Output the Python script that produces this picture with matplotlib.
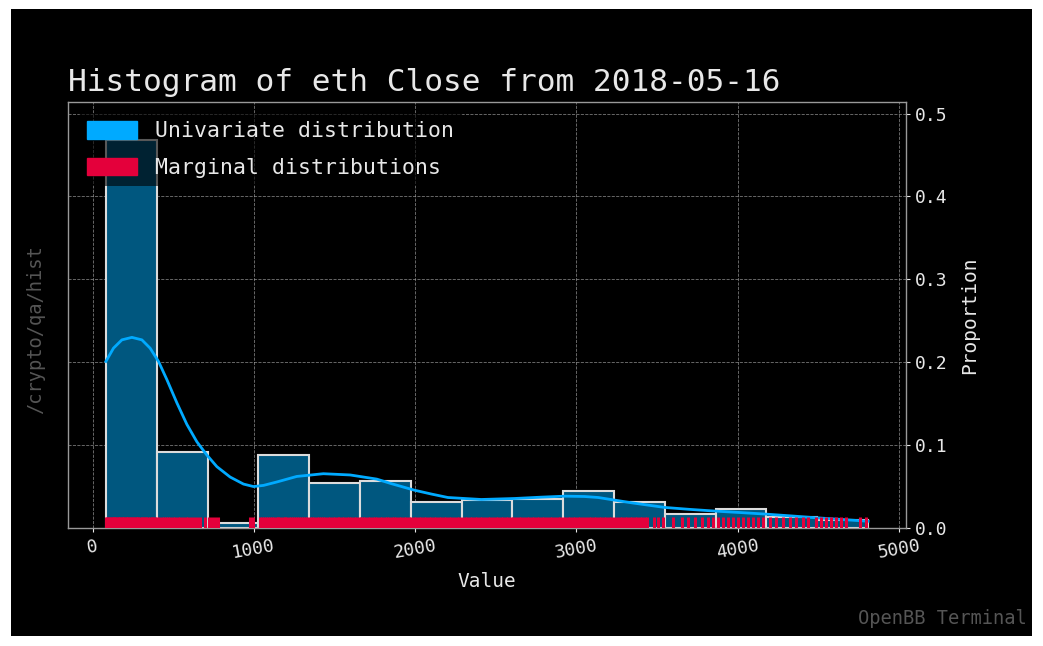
"""
Histogram of ETH close prices with KDE and rug, OpenBB terminal style
"""
import matplotlib.pyplot as plt
from matplotlib.patches import Patch, Rectangle

# histogram: 15 equal bins between min and max close
bin_edges = [83, 398, 713, 1028, 1343, 1658, 1973, 2288, 2603,
             2918, 3233, 3548, 3863, 4178, 4493, 4808]
proportions = [0.468, 0.0912, 0.006, 0.0876, 0.0543, 0.0567, 0.0309, 0.0337,
               0.035, 0.0442, 0.0317, 0.0172, 0.0229, 0.0133, 0.010]

# kde curve
kde_x = [83, 130, 182, 244, 306, 357, 409, 461, 523, 585, 647, 709, 771, 853,
         936, 998, 1060, 1142, 1266, 1431, 1597, 1762, 1851, 1996, 2100, 2203,
         2410, 2617, 2780, 2927, 3050, 3135, 3342, 3548, 3700, 3859, 4020,
         4170, 4330, 4480, 4640, 4790, 4808]
kde_y = [0.201, 0.217, 0.227, 0.230, 0.227, 0.217, 0.201, 0.179, 0.151,
         0.125, 0.104, 0.088, 0.074, 0.0615, 0.053, 0.050, 0.0514, 0.0555,
         0.0622, 0.0655, 0.064, 0.059, 0.0536, 0.0456, 0.041, 0.0368, 0.0344,
         0.0356, 0.0372, 0.0384, 0.038, 0.0368, 0.0304, 0.0248, 0.0225,
         0.0204, 0.0186, 0.0168, 0.0146, 0.0124, 0.0104, 0.0084, 0.0082]

# rug ticks (close values)
rug_values = [
    84, 92, 101, 110, 118, 125, 133, 140, 148, 155, 163, 171, 180, 188, 197,
    205, 214, 222, 231, 240, 249, 258, 267, 276, 285, 294, 304, 314, 323, 333,
    344, 355, 366, 378, 390, 402, 415, 428, 441, 455, 469, 483, 498, 513, 528,
    544, 560, 577, 594, 612, 630, 648, 668, 700, 719, 743, 762, 780, 977, 997,
    1039, 1051, 1060, 1074, 1088, 1101, 1112, 1127, 1141, 1150, 1163, 1178,
    1191, 1202, 1217, 1230, 1241, 1256, 1270, 1281, 1293, 1306, 1320, 1331,
    1349, 1362, 1373, 1390, 1401, 1418, 1431, 1444, 1461, 1473, 1490, 1502,
    1519, 1531, 1548, 1560, 1577, 1592, 1604, 1621, 1633, 1649, 1662, 1679,
    1691, 1708, 1720, 1737, 1751, 1764, 1781, 1794, 1811, 1824, 1841, 1854,
    1871, 1884, 1901, 1914, 1931, 1944, 1961, 1974, 1991, 2005, 2022, 2035,
    2053, 2066, 2084, 2098, 2115, 2129, 2147, 2161, 2179, 2193, 2211, 2225,
    2243, 2257, 2275, 2289, 2307, 2321, 2339, 2353, 2371, 2385, 2403, 2417,
    2435, 2449, 2467, 2481, 2499, 2513, 2531, 2545, 2563, 2577, 2595, 2609,
    2627, 2641, 2659, 2673, 2691, 2705, 2723, 2737, 2755, 2769, 2787, 2801,
    2819, 2833, 2851, 2865, 2883, 2897, 2915, 2929, 2947, 2961, 2979, 2993,
    3011, 3025, 3043, 3057, 3075, 3089, 3107, 3121, 3139, 3153, 3171, 3185,
    3203, 3217, 3235, 3249, 3267, 3281, 3299, 3313, 3331, 3345, 3363, 3377,
    3395, 3409, 3427, 3436, 3478, 3507, 3538, 3600, 3652, 3693, 3734, 3776,
    3817, 3848, 3879, 3910, 3941, 3972, 4003, 4034, 4065, 4096, 4127, 4158,
    4199, 4240, 4281, 4323, 4364, 4405, 4436, 4488, 4519, 4550, 4581, 4612,
    4643, 4674, 4757, 4798,
]

text_color = "#e8e8e8"
font = "DejaVu Sans Mono"
plt.rcParams["font.family"] = font

fig = plt.figure(figsize=(10.43, 6.46), dpi=100, facecolor="white")
fig.patches.append(Rectangle((11 / 1043, 10 / 646), 1021 / 1043, 627 / 646,
                             transform=fig.transFigure, facecolor="black",
                             edgecolor="none", zorder=-5))
ax = fig.add_axes([68 / 1043, 1 - 528 / 646, 838 / 1043, 426 / 646])
ax.set_facecolor("black")

widths = [bin_edges[i + 1] - bin_edges[i] for i in range(len(proportions))]
ax.bar(bin_edges[:-1], proportions, width=widths, align="edge",
       color="#00577f", edgecolor="#dcdcdc", linewidth=1.5, zorder=2)
ax.plot(kde_x, kde_y, color="#00aaff", linewidth=2, zorder=3,
        solid_joinstyle="round")
ax.vlines(rug_values, 0, 0.025, transform=ax.get_xaxis_transform(),
          color="#e4003b", linewidth=2.2, zorder=4)

ax.set_xlim(-152, 5043)
ax.set_ylim(0, 0.514)
ax.set_xticks([0, 1000, 2000, 3000, 4000, 5000])
ax.set_yticks([0.0, 0.1, 0.2, 0.3, 0.4, 0.5])
ax.yaxis.tick_right()
ax.yaxis.set_label_position("right")
ax.tick_params(colors=text_color, labelsize=13, length=3)
ax.tick_params(axis="x", labelrotation=10)
ax.grid(True, color="#aaaaaa", linestyle="--", linewidth=0.6, alpha=0.7)
ax.set_axisbelow(True)
for spine in ax.spines.values():
    spine.set_color("#999999")
    spine.set_linewidth(1)

ax.set_xlabel("Value", color=text_color, fontsize=14, labelpad=7)
ax.set_ylabel("Proportion", color=text_color, fontsize=14, labelpad=9)
ax.set_title("Histogram of eth Close from 2018-05-16", loc="left",
             color=text_color, fontsize=22.4, pad=8)

handles = [Patch(color="#00aaff", label="Univariate distribution"),
           Patch(color="#e4003b", label="Marginal distributions")]
leg = ax.legend(handles=handles, loc="upper left", fontsize=15.5,
                handlelength=2.3, handleheight=0.85, labelcolor=text_color,
                labelspacing=0.75, handletextpad=0.85,
                frameon=True, facecolor="black", framealpha=0.6,
                edgecolor="none", borderaxespad=0.5)

fig.text(36 / 1043, 1 - 330 / 646, "/crypto/qa/hist", rotation=90,
         color="#555555", fontsize=13.5, ha="center", va="center")
fig.text(1027 / 1043, 1 - 618 / 646, "OpenBB Terminal", color="#555555",
         fontsize=13.5, ha="right", va="center")

plt.savefig("out.png", dpi=100, facecolor="white")
plt.close()
